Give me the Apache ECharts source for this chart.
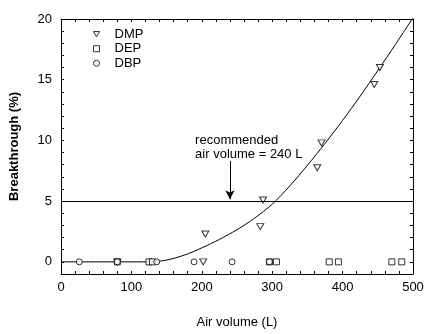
<!DOCTYPE html>
<html>
<head>
<meta charset="utf-8">
<script src="https://cdn.jsdelivr.net/npm/echarts@6/dist/echarts.min.js"></script>
<style>
  html, body { margin: 0; padding: 0; background: #fff; }
  #chart { width: 432px; height: 334px; }
</style>
</head>
<body>
<div id="chart"></div>
<script>
// Breakthrough of phthalates versus sampled air volume
var dmpVolume = [80, 202, 205, 283, 287, 364, 370, 445, 453];
var dmpBreak  = [0, 0, 2.3, 2.9, 5.1, 7.75, 9.8, 14.6, 16.0];

var depVolume = [80, 125, 130, 296, 306, 381, 394, 470, 484];
var depBreak  = [0, 0, 0, 0, 0, 0, 0, 0, 0];

var dbpVolume = [26, 80, 136, 189, 243, 296];
var dbpBreak  = [0, 0, 0, 0, 0, 0];

// fitted breakthrough curve (volume, %)
var fitVolume = [0, 125, 150, 175, 200, 225, 250, 275, 300, 325, 350, 375, 400, 425, 450, 475, 500];
var fitBreak  = [0, 0, 0.15, 0.55, 1.15, 1.85, 2.65, 3.6, 4.75, 6.25, 7.95, 9.75, 11.65, 13.65, 15.75, 17.9, 20.1];

var limitLevel = 5;
var recommendedVolume = 240;
var noteText = 'recommended\nair volume = 240 L';

var xLabels = [0, 100, 200, 300, 400, 500];
var yLabels = [0, 5, 10, 15, 20];

function pairs(xs, ys) {
  return xs.map(function (x, i) { return [x, ys[i]]; });
}

var FONT = '"Liberation Sans", Arial, sans-serif';
var black = '#000';
var downTriangle = 'path://M0,0 L10,0 L5,9 Z';

var markerStyle = { color: '#fff', borderColor: black, borderWidth: 1 };

var tickCommon = {
  axisLine: { show: true, onZero: false, lineStyle: { color: black, width: 1 } },
  axisTick: { show: true, inside: true, length: 3, lineStyle: { color: black } },
  splitLine: { show: false }
};

var chart = echarts.init(document.getElementById('chart'), null, { renderer: 'canvas' });

chart.setOption({
  animation: false,
  backgroundColor: '#fff',
  grid: { left: 61, right: 19, top: 19, bottom: 60, containLabel: false },
  legend: {
    orient: 'vertical',
    left: 88,
    top: 22,
    itemWidth: 6,
    itemHeight: 6,
    itemGap: 0,
    itemStyle: { color: '#fff', borderColor: black, borderWidth: 1 },
    textStyle: { fontFamily: FONT, fontSize: 13, color: black, lineHeight: 14.5, padding: [0, 0, 0, 10] },
    data: [
      { name: 'DMP', icon: downTriangle },
      { name: 'DEP', icon: 'rect' },
      { name: 'DBP', icon: 'circle' }
    ]
  },
  xAxis: [
    Object.assign({
      type: 'value', min: 0, max: 500, interval: 20, position: 'bottom',
      name: 'Air volume (L)', nameLocation: 'middle', nameGap: 42,
      nameTextStyle: { fontFamily: FONT, fontSize: 13, color: black },
      axisLabel: {
        margin: 7, fontFamily: FONT, fontSize: 13, color: black,
        formatter: function (v) { return xLabels.indexOf(v) >= 0 ? String(v) : ''; }
      }
    }, tickCommon),
    Object.assign({
      type: 'value', min: 0, max: 500, interval: 20, position: 'top',
      axisLabel: { show: false }
    }, tickCommon)
  ],
  yAxis: [
    Object.assign({
      type: 'value', min: -1, max: 20, interval: 1, position: 'left',
      name: 'Breakthrough (%)', nameLocation: 'middle', nameGap: 40, nameRotate: 90,
      nameTextStyle: { fontFamily: FONT, fontSize: 13, fontWeight: 'bold', color: black },
      axisLabel: {
        margin: 9, fontFamily: FONT, fontSize: 13, color: black,
        formatter: function (v) { return yLabels.indexOf(v) >= 0 ? String(v) : ''; }
      }
    }, tickCommon),
    Object.assign({
      type: 'value', min: -1, max: 20, interval: 1, position: 'right',
      axisLabel: { show: false }
    }, tickCommon)
  ],
  series: [
    {
      name: 'fit',
      type: 'line',
      data: pairs(fitVolume, fitBreak),
      smooth: 0.3,
      showSymbol: false,
      symbol: 'none',
      lineStyle: { color: black, width: 1 },
      z: 1,
      markLine: {
        silent: true,
        symbol: ['none', 'none'],
        lineStyle: { color: black, width: 1, type: 'solid' },
        label: { show: false },
        data: [
          { yAxis: limitLevel },
          [
            { coord: [recommendedVolume, 8.3], symbol: 'none' },
            { coord: [recommendedVolume, 5.15], symbol: 'arrow', symbolSize: [7, 9] }
          ]
        ]
      },
      markPoint: {
        silent: true,
        symbol: 'circle',
        symbolSize: 0,
        data: [{ coord: [190.5, 10.6] }],
        label: {
          show: true,
          position: [0, 0],
          align: 'left',
          verticalAlign: 'top',
          fontFamily: FONT,
          fontSize: 13,
          lineHeight: 14,
          color: black,
          formatter: noteText
        }
      }
    },
    {
      name: 'DMP', type: 'scatter', symbol: 'triangle', symbolRotate: 180, symbolSize: [7, 6],
      itemStyle: markerStyle, data: pairs(dmpVolume, dmpBreak), z: 3
    },
    {
      name: 'DEP', type: 'scatter', symbol: 'rect', symbolSize: 6,
      itemStyle: markerStyle, data: pairs(depVolume, depBreak), z: 3
    },
    {
      name: 'DBP', type: 'scatter', symbol: 'circle', symbolSize: 6,
      itemStyle: markerStyle, data: pairs(dbpVolume, dbpBreak), z: 3
    }
  ]
});
</script>
</body>
</html>
